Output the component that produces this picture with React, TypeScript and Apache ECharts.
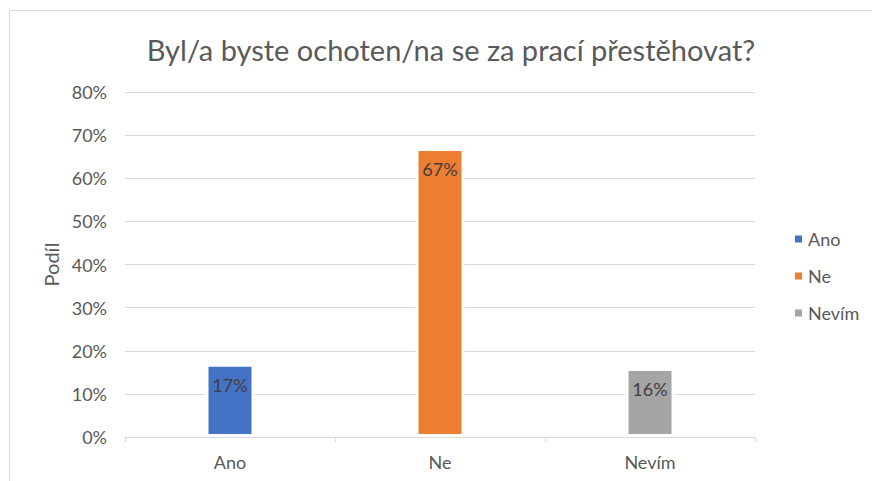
import React, { useEffect, useRef } from "react";
import * as echarts from "echarts";

const categories = ["Ano", "Ne", "Nevím"];
const seriesNames = ["Ano", "Ne", "Nevím"];
const values = [17, 67, 16];
const colors = ["#4472C4", "#ED7D31", "#A5A5A5"];
const yTicks = [0, 10, 20, 30, 40, 50, 60, 70, 80];
const titleText = "Byl/a byste ochoten/na se za prací přestěhovat?";
const yAxisName = "Podíl";

const FONT = "Lato, 'Open Sans', sans-serif";

export default function App() {
  const ref = useRef<HTMLDivElement>(null);
  useEffect(() => {
    if (!ref.current) return;
    const chart = echarts.init(ref.current, undefined, { renderer: "svg" });
    const series = seriesNames.map((name, i) => ({
      name,
      type: "bar",
      stack: "total",
      barWidth: 49,
      data: categories.map((_, j) => (j === i ? values[i] : "-")),
      itemStyle: { color: colors[i], borderColor: "#ffffff", borderWidth: 3 },
      label: {
        show: true,
        position: "insideTop",
        distance: 12,
        formatter: "{c}%",
        color: "#404040",
        fontSize: 18,
        fontFamily: FONT,
      },
    }));
    chart.setOption({
      animation: false,
      backgroundColor: "#ffffff",
      textStyle: { fontFamily: FONT },
      title: {
        text: titleText,
        left: 446,
        textAlign: "center",
        top: 30,
        textStyle: { fontSize: 29, fontWeight: "normal", color: "#595959", fontFamily: FONT },
      },
      legend: {
        orient: "vertical",
        left: 793,
        top: 230,
        padding: 0,
        icon: "rect",
        itemWidth: 9,
        itemHeight: 9,
        itemGap: 19,
        data: seriesNames,
        textStyle: { fontSize: 18, color: "#595959", fontFamily: FONT },
      },
      grid: { left: 125, right: 117, top: 92, bottom: 44, containLabel: false },
      xAxis: {
        type: "category",
        data: categories,
        axisLine: { lineStyle: { color: "#d9d9d9", width: 1 } },
        axisTick: { show: true, length: 5, lineStyle: { color: "#d9d9d9" } },
        axisLabel: { fontSize: 18, color: "#595959", margin: 16, fontFamily: FONT },
      },
      yAxis: {
        type: "value",
        min: yTicks[0],
        max: yTicks[yTicks.length - 1],
        interval: 10,
        name: yAxisName,
        nameLocation: "middle",
        nameRotate: 90,
        nameGap: 64,
        nameTextStyle: { fontSize: 20, color: "#595959", fontFamily: FONT },
        axisLine: { show: false },
        axisTick: { show: false },
        splitLine: { lineStyle: { color: "#d9d9d9", width: 1 } },
        axisLabel: { formatter: "{value}%", fontSize: 18, color: "#595959", margin: 18, fontFamily: FONT },
      },
      graphic: [
        { type: "line", shape: { x1: 9.5, y1: 10.5, x2: 9.5, y2: 481 }, style: { stroke: "#d9d9d9", lineWidth: 1 } },
        { type: "line", shape: { x1: 9.5, y1: 10.5, x2: 872, y2: 10.5 }, style: { stroke: "#d9d9d9", lineWidth: 1 } },
      ],
      series,
    });
    return () => chart.dispose();
  }, []);
  return (
    <div
      ref={ref}
      style={{ position: "fixed", left: 0, top: 0, width: 872, height: 481, background: "#fff" }}
    />
  );
}
